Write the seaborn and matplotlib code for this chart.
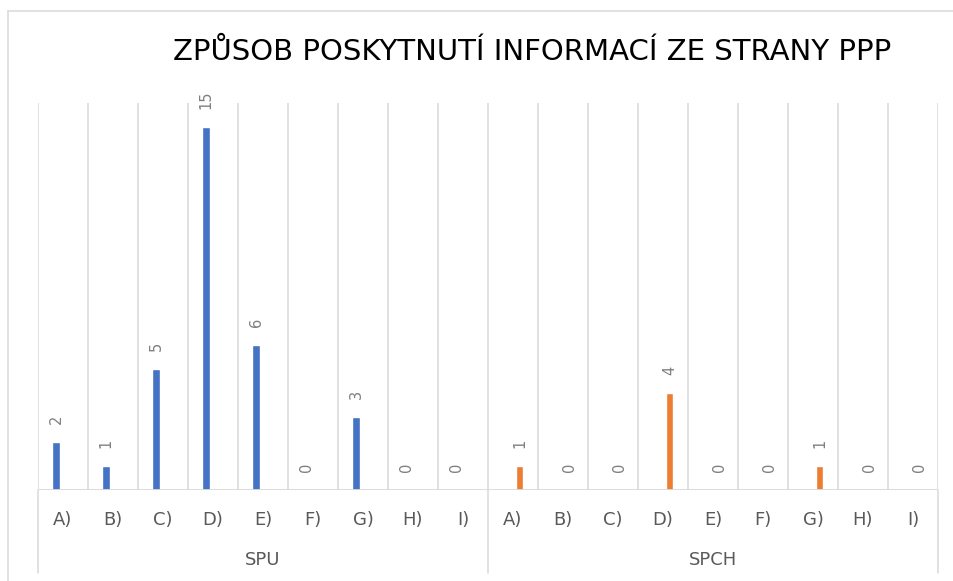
import matplotlib
matplotlib.use("Agg")
import matplotlib.pyplot as plt
import matplotlib.transforms as mtransforms
from matplotlib.lines import Line2D
import seaborn as sns
import pandas as pd

# ---- data ----
categories = ["A)", "B)", "C)", "D)", "E)", "F)", "G)", "H)", "I)"]
groups = ["SPU", "SPCH"]
spu_values = [2, 1, 5, 15, 6, 0, 3, 0, 0]
spch_values = [1, 0, 0, 4, 0, 0, 1, 0, 0]
title_text = "ZPŮSOB POSKYTNUTÍ INFORMACÍ ZE STRANY PPP"
colors = {"SPU": "#4472C4", "SPCH": "#ED7D31"}

rows = []
for g, vals in zip(groups, [spu_values, spch_values]):
    for c, v in zip(categories, vals):
        rows.append({"key": f"{g} {c}", "cat": c, "group": g, "value": v})
df = pd.DataFrame(rows)

sns.set_theme(style="white")
plt.rcParams["font.family"] = ["DejaVu Sans"]

W, H = 954, 581
fig = plt.figure(figsize=(W / 100, H / 100), dpi=100)
ax = fig.add_axes([38 / W, 1 - 490 / H, 900 / W, 387 / H])

sns.barplot(data=df, x="key", y="value", hue="group", palette=colors,
            dodge=True, width=0.54, ax=ax, legend=False, saturation=1)

# narrow the bars (Excel-like clustered bars with a gap), keep centres
bar_w = 0.15
bars = [p for p in ax.patches if p.get_width() > 0]
for p in bars:
    cx = p.get_x() + p.get_width() / 2
    p.set_width(bar_w)
    p.set_x(cx - bar_w / 2)

n = len(df)
ax.set_xlim(-0.5, n - 0.5)
ax.set_ylim(0, 16)
ax.set_yticks([])
ax.set_ylabel("")
ax.set_xlabel("")
for s in ax.spines.values():
    s.set_visible(False)

# vertical gridlines
for i in range(n + 1):
    ax.axvline(i - 0.5, color="#D9D9D9", lw=1.1, zorder=0)
ax.axhline(0, color="#D9D9D9", lw=1.3, zorder=1)

# category tick labels
ax.set_xticks(range(n))
ax.set_xticklabels(df["cat"], fontsize=13, color="#595959")
ax.tick_params(axis="x", length=0, pad=15)

# data labels: one per category, at the bar of its group
for i, row in df.iterrows():
    gi = groups.index(row["group"])
    cx = i + (-0.135 if gi == 0 else 0.135)
    ax.annotate(str(row["value"]), (cx, row["value"]), xytext=(0, 13),
                textcoords="offset points", rotation=90, ha="center",
                va="bottom", fontsize=10.5, color="#7F7F7F")

# group separators and labels
trans = mtransforms.blended_transform_factory(ax.transData, ax.transAxes)
for xb in [-0.5, len(categories) - 0.5, n - 0.5]:
    ax.add_line(Line2D([xb, xb], [0, -83 / 387], transform=trans,
                       color="#D9D9D9", lw=1.1, clip_on=False))
for gi, g in enumerate(groups):
    xc = gi * len(categories) + (len(categories) - 1) / 2
    ax.text(xc, -70 / 387, g, transform=trans,
            ha="center", va="center", fontsize=13, color="#595959")

# title
fig.text(532 / W, 1 - 52 / H, title_text, ha="center", va="center",
         fontsize=21, color="#000000")

# outer border (left, top)
fig.add_artist(Line2D([8 / W, 8 / W], [0, 1 - 11 / H], color="#D9D9D9",
                      lw=1.1, transform=fig.transFigure))
fig.add_artist(Line2D([8 / W, 1], [1 - 11 / H, 1 - 11 / H], color="#D9D9D9",
                      lw=1.1, transform=fig.transFigure))

fig.savefig("out.png", dpi=100)
